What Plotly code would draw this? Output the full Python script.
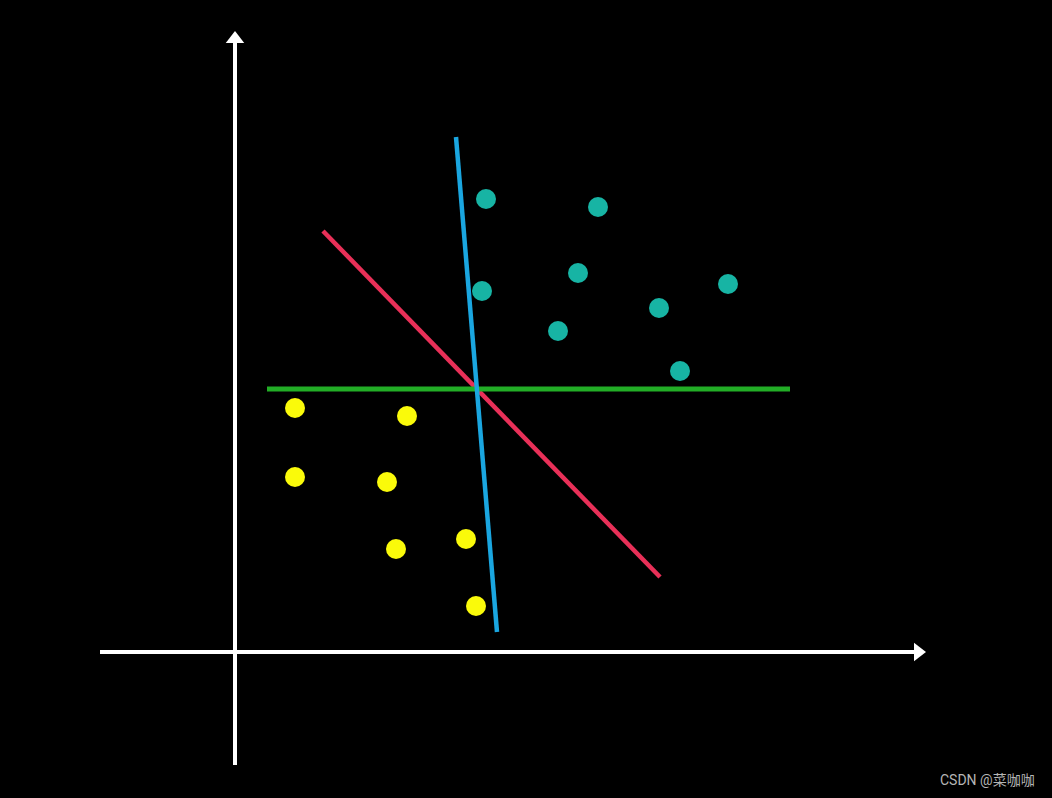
import plotly.graph_objects as go

# Data in units relative to the axes origin
teal_x = [251, 363, 343, 247, 493, 424, 323, 445]
teal_y = [453, 445, 379, 361, 368, 344, 321, 281]

yellow_x = [60, 172, 60, 152, 161, 231, 241]
yellow_y = [244, 236, 175, 170, 103, 113, 46]

red_x = [88, 425]
red_y = [421, 75]
blue_x = [221, 262]
blue_y = [515, 20]
green_x = [32, 555]
green_y = [263, 263]

xaxis_ext = [-135, 680]
yaxis_ext = [-113, 610]

fig = go.Figure()

# axes
fig.add_trace(go.Scatter(x=xaxis_ext, y=[0, 0], mode="lines",
                         line=dict(color="white", width=4), hoverinfo="skip"))
fig.add_trace(go.Scatter(x=[0, 0], y=yaxis_ext, mode="lines",
                         line=dict(color="white", width=4), hoverinfo="skip"))
fig.add_trace(go.Scatter(x=[xaxis_ext[1] + 3], y=[0], mode="markers",
                         marker=dict(symbol="triangle-right", size=16, color="white",
                                     line=dict(width=0)), hoverinfo="skip"))
fig.add_trace(go.Scatter(x=[0], y=[yaxis_ext[1] + 3], mode="markers",
                         marker=dict(symbol="triangle-up", size=16, color="white",
                                     line=dict(width=0)), hoverinfo="skip"))

# lines
fig.add_trace(go.Scatter(x=red_x, y=red_y, mode="lines",
                         line=dict(color="#e83058", width=4.5)))
fig.add_trace(go.Scatter(x=green_x, y=green_y, mode="lines",
                         line=dict(color="#22ad26", width=5)))
fig.add_trace(go.Scatter(x=blue_x, y=blue_y, mode="lines",
                         line=dict(color="#1aa6e0", width=4.5)))

# points
fig.add_trace(go.Scatter(x=teal_x, y=teal_y, mode="markers",
                         marker=dict(size=20, color="#17b4a4", line=dict(width=0))))
fig.add_trace(go.Scatter(x=yellow_x, y=yellow_y, mode="markers",
                         marker=dict(size=20, color="#fafa0a", line=dict(width=0))))

fig.add_annotation(text="CSDN @菜咖咖", xref="paper", yref="paper",
                   x=0.986, y=0.022, xanchor="right", yanchor="middle",
                   showarrow=False,
                   font=dict(family="Roboto, Noto Sans CJK SC, sans-serif",
                             size=14, color="#b5b5b5"))

fig.update_layout(
    width=1052, height=798,
    margin=dict(l=0, r=0, t=0, b=0),
    paper_bgcolor="black", plot_bgcolor="black",
    showlegend=False,
    xaxis=dict(range=[-235, 817], visible=False, fixedrange=True),
    yaxis=dict(range=[-146, 652], visible=False, fixedrange=True),
)

fig.write_html(
    "out.html",
    config={"displayModeBar": False},
    post_script="document.body.style.margin='0';document.body.style.background='black';document.body.style.overflow='hidden';",
)
